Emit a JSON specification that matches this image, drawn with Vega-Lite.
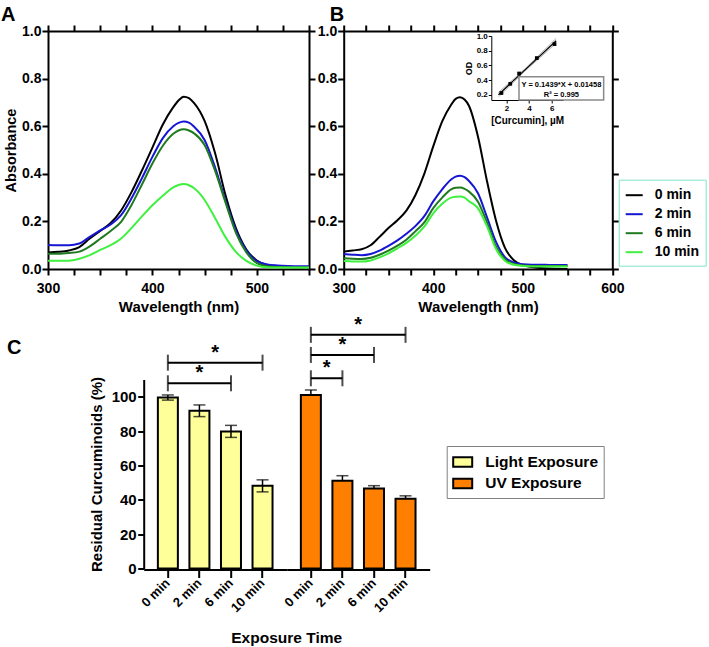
{
  "$schema": "https://vega.github.io/schema/vega-lite/v6.json",
  "padding": {"left": 1, "top": 5, "right": 0, "bottom": 0},
  "config": {
    "font": "Liberation Sans",
    "view": {"stroke": null},
    "legend": {"labelFont": "Liberation Sans", "labelFontWeight": "bold", "labelColor": "black"},
    "title": {"font": "Liberation Sans", "fontSize": 20, "fontWeight": "bold", "anchor": "start", "frame": "bounds", "color": "black"}
  },
  "resolve": {"scale": {"fill": "independent", "stroke": "independent"}},
  "datasets": {
    "specA": [
      {"wl": 300, "0 min": 0.069, "2 min": 0.101, "6 min": 0.064, "10 min": 0.035},
      {"wl": 310, "0 min": 0.072, "2 min": 0.100, "6 min": 0.064, "10 min": 0.035},
      {"wl": 320, "0 min": 0.078, "2 min": 0.100, "6 min": 0.067, "10 min": 0.035},
      {"wl": 330, "0 min": 0.092, "2 min": 0.107, "6 min": 0.073, "10 min": 0.043},
      {"wl": 340, "0 min": 0.128, "2 min": 0.135, "6 min": 0.095, "10 min": 0.058},
      {"wl": 350, "0 min": 0.160, "2 min": 0.162, "6 min": 0.127, "10 min": 0.080},
      {"wl": 360, "0 min": 0.193, "2 min": 0.187, "6 min": 0.160, "10 min": 0.100},
      {"wl": 370, "0 min": 0.246, "2 min": 0.226, "6 min": 0.198, "10 min": 0.128},
      {"wl": 380, "0 min": 0.323, "2 min": 0.297, "6 min": 0.269, "10 min": 0.172},
      {"wl": 390, "0 min": 0.414, "2 min": 0.382, "6 min": 0.355, "10 min": 0.221},
      {"wl": 400, "0 min": 0.510, "2 min": 0.471, "6 min": 0.443, "10 min": 0.268},
      {"wl": 410, "0 min": 0.607, "2 min": 0.550, "6 min": 0.518, "10 min": 0.308},
      {"wl": 420, "0 min": 0.680, "2 min": 0.600, "6 min": 0.568, "10 min": 0.343},
      {"wl": 425, "0 min": 0.708, "2 min": 0.614, "6 min": 0.582, "10 min": 0.353},
      {"wl": 430, "0 min": 0.724, "2 min": 0.620, "6 min": 0.587, "10 min": 0.357},
      {"wl": 435, "0 min": 0.718, "2 min": 0.615, "6 min": 0.582, "10 min": 0.352},
      {"wl": 440, "0 min": 0.697, "2 min": 0.598, "6 min": 0.570, "10 min": 0.339},
      {"wl": 450, "0 min": 0.622, "2 min": 0.542, "6 min": 0.521, "10 min": 0.290},
      {"wl": 460, "0 min": 0.487, "2 min": 0.427, "6 min": 0.413, "10 min": 0.214},
      {"wl": 470, "0 min": 0.311, "2 min": 0.288, "6 min": 0.280, "10 min": 0.134},
      {"wl": 480, "0 min": 0.172, "2 min": 0.162, "6 min": 0.152, "10 min": 0.072},
      {"wl": 490, "0 min": 0.082, "2 min": 0.078, "6 min": 0.070, "10 min": 0.034},
      {"wl": 500, "0 min": 0.036, "2 min": 0.033, "6 min": 0.025, "10 min": 0.014},
      {"wl": 510, "0 min": 0.017, "2 min": 0.019, "6 min": 0.012, "10 min": 0.007},
      {"wl": 520, "0 min": 0.011, "2 min": 0.015, "6 min": 0.008, "10 min": 0.006},
      {"wl": 530, "0 min": 0.009, "2 min": 0.013, "6 min": 0.007, "10 min": 0.006},
      {"wl": 540, "0 min": 0.008, "2 min": 0.012, "6 min": 0.006, "10 min": 0.006},
      {"wl": 550, "0 min": 0.008, "2 min": 0.012, "6 min": 0.006, "10 min": 0.006}
    ],
    "specB": [
      {"wl": 300, "0 min": 0.073, "2 min": 0.063, "6 min": 0.045, "10 min": 0.034},
      {"wl": 310, "0 min": 0.078, "2 min": 0.060, "6 min": 0.043, "10 min": 0.032},
      {"wl": 320, "0 min": 0.083, "2 min": 0.058, "6 min": 0.042, "10 min": 0.031},
      {"wl": 330, "0 min": 0.100, "2 min": 0.063, "6 min": 0.047, "10 min": 0.036},
      {"wl": 340, "0 min": 0.135, "2 min": 0.077, "6 min": 0.060, "10 min": 0.049},
      {"wl": 350, "0 min": 0.172, "2 min": 0.097, "6 min": 0.077, "10 min": 0.066},
      {"wl": 360, "0 min": 0.205, "2 min": 0.120, "6 min": 0.098, "10 min": 0.087},
      {"wl": 370, "0 min": 0.245, "2 min": 0.148, "6 min": 0.123, "10 min": 0.110},
      {"wl": 380, "0 min": 0.310, "2 min": 0.180, "6 min": 0.158, "10 min": 0.140},
      {"wl": 390, "0 min": 0.400, "2 min": 0.222, "6 min": 0.196, "10 min": 0.178},
      {"wl": 400, "0 min": 0.515, "2 min": 0.284, "6 min": 0.256, "10 min": 0.234},
      {"wl": 410, "0 min": 0.620, "2 min": 0.335, "6 min": 0.300, "10 min": 0.274},
      {"wl": 420, "0 min": 0.690, "2 min": 0.376, "6 min": 0.335, "10 min": 0.300},
      {"wl": 425, "0 min": 0.715, "2 min": 0.388, "6 min": 0.341, "10 min": 0.304},
      {"wl": 430, "0 min": 0.722, "2 min": 0.392, "6 min": 0.342, "10 min": 0.305},
      {"wl": 435, "0 min": 0.712, "2 min": 0.386, "6 min": 0.337, "10 min": 0.300},
      {"wl": 440, "0 min": 0.685, "2 min": 0.370, "6 min": 0.325, "10 min": 0.285},
      {"wl": 450, "0 min": 0.556, "2 min": 0.318, "6 min": 0.283, "10 min": 0.255},
      {"wl": 460, "0 min": 0.370, "2 min": 0.218, "6 min": 0.196, "10 min": 0.180},
      {"wl": 470, "0 min": 0.205, "2 min": 0.115, "6 min": 0.095, "10 min": 0.085},
      {"wl": 480, "0 min": 0.090, "2 min": 0.050, "6 min": 0.042, "10 min": 0.035},
      {"wl": 490, "0 min": 0.037, "2 min": 0.027, "6 min": 0.021, "10 min": 0.018},
      {"wl": 500, "0 min": 0.017, "2 min": 0.020, "6 min": 0.015, "10 min": 0.013},
      {"wl": 510, "0 min": 0.008, "2 min": 0.018, "6 min": 0.013, "10 min": 0.011},
      {"wl": 520, "0 min": 0.004, "2 min": 0.018, "6 min": 0.013, "10 min": 0.011},
      {"wl": 530, "0 min": 0.002, "2 min": 0.017, "6 min": 0.013, "10 min": 0.011},
      {"wl": 540, "0 min": 0.001, "2 min": 0.017, "6 min": 0.013, "10 min": 0.011},
      {"wl": 550, "0 min": 0.000, "2 min": 0.017, "6 min": 0.013, "10 min": 0.011}
    ],
    "std": [
      {"conc": 1.5625, "od": 0.225},
      {"conc": 2.344, "od": 0.35},
      {"conc": 3.125, "od": 0.49},
      {"conc": 4.6875, "od": 0.70},
      {"conc": 6.25, "od": 0.89}
    ],
    "reg": [
      {"conc": 1.3, "od": 0.202},
      {"conc": 6.4, "od": 0.935}
    ],
    "ci": [
      {"conc": 1.3, "od": 0.232, "band": "upper"},
      {"conc": 3.6, "od": 0.548, "band": "upper"},
      {"conc": 6.4, "od": 0.968, "band": "upper"},
      {"conc": 1.3, "od": 0.172, "band": "lower"},
      {"conc": 3.6, "od": 0.518, "band": "lower"},
      {"conc": 6.4, "od": 0.903, "band": "lower"}
    ],
    "cdata": [
      {"kind": "bar", "group": "Light Exposure", "time": "0 min", "mean": 99.5, "sd": 1.5},
      {"kind": "bar", "group": "Light Exposure", "time": "2 min", "mean": 91.8, "sd": 3.4},
      {"kind": "bar", "group": "Light Exposure", "time": "6 min", "mean": 79.8, "sd": 3.5},
      {"kind": "bar", "group": "Light Exposure", "time": "10 min", "mean": 48.1, "sd": 3.5},
      {"kind": "bar", "group": "UV Exposure", "time": "0 min", "mean": 101.0, "sd": 2.9},
      {"kind": "bar", "group": "UV Exposure", "time": "2 min", "mean": 51.0, "sd": 3.0},
      {"kind": "bar", "group": "UV Exposure", "time": "6 min", "mean": 46.5, "sd": 1.7},
      {"kind": "bar", "group": "UV Exposure", "time": "10 min", "mean": 40.6, "sd": 1.7},
      {"kind": "bracket", "group": "Light Exposure", "from": "0 min", "to": "6 min", "level": 107.8, "star": "2 min", "starPos": "center"},
      {"kind": "bracket", "group": "Light Exposure", "from": "0 min", "to": "10 min", "level": 119.8, "star": "2 min", "starPos": "between"},
      {"kind": "bracket", "group": "UV Exposure", "from": "0 min", "to": "2 min", "level": 110.7, "star": "0 min", "starPos": "between"},
      {"kind": "bracket", "group": "UV Exposure", "from": "0 min", "to": "6 min", "level": 124.3, "star": "2 min", "starPos": "center"},
      {"kind": "bracket", "group": "UV Exposure", "from": "0 min", "to": "10 min", "level": 136.0, "star": "2 min", "starPos": "between"}
    ]
  },
  "spacing": 0.5,
  "vconcat": [
    {
      "spacing": 0.7,
      "resolve": {"scale": {"stroke": "independent"}},
      "hconcat": [
        {
          "title": {"text": "A", "offset": -1},
          "width": 261,
          "height": 238,
          "data": {"name": "specA"},
          "transform": [{"fold": ["0 min", "2 min", "6 min", "10 min"], "as": ["time", "abs"]}],
          "layer": [
            {
              "mark": {"type": "line", "strokeWidth": 2, "interpolate": "monotone"},
              "encoding": {
                "x": {"field": "wl", "type": "quantitative", "scale": {"domain": [300, 550], "nice": false, "zero": false},
                  "axis": {"orient": "bottom", "values": [300, 325, 350, 375, 400, 425, 450, 475, 500, 525, 550],
                    "labelExpr": "datum.value % 100 === 0 ? datum.label : ''", "labelPadding": 6, "title": "Wavelength (nm)", "titlePadding": 4,
                    "domainColor": "black", "domainWidth": 2, "tickColor": "black", "tickWidth": 2, "tickSize": 6, "grid": false, "labelFlush": false, "labelOverlap": false,
                    "labelFont": "Liberation Sans", "labelFontWeight": "bold", "labelFontSize": 14, "labelColor": "black",
                    "titleFont": "Liberation Sans", "titleFontWeight": "bold", "titleFontSize": 15, "titleColor": "black"}},
                "y": {"field": "abs", "type": "quantitative", "scale": {"domain": [0, 1], "nice": false},
                  "axis": {"orient": "left", "values": [0, 0.2, 0.4, 0.6, 0.8, 1.0], "format": ".1f", "labelPadding": 1,
                    "title": "Absorbance", "minExtent": 47, "titleX": -32.5, "titleBaseline": "alphabetic",
                    "domainColor": "black", "domainWidth": 2, "tickColor": "black", "tickWidth": 2, "tickSize": 6, "grid": false, "labelFlush": false, "labelOverlap": false,
                    "labelFont": "Liberation Sans", "labelFontWeight": "bold", "labelFontSize": 14, "labelColor": "black",
                    "titleFont": "Liberation Sans", "titleFontWeight": "bold", "titleFontSize": 14.5, "titleColor": "black"}},
                "stroke": {"field": "time", "type": "nominal",
                  "scale": {"domain": ["0 min", "2 min", "6 min", "10 min"], "range": ["#000000", "#1616d2", "#1f7a1f", "#3ff03f"]},
                  "legend": null}
              }
            },
            {
              "mark": {"type": "line", "opacity": 0},
              "encoding": {
                "x": {"field": "wl", "type": "quantitative", "scale": {"domain": [300, 550], "nice": false, "zero": false},
                  "axis": {"orient": "top", "values": [300, 325, 350, 375, 400, 425, 450, 475, 500, 525, 550], "labels": false, "title": null,
                    "domainColor": "black", "domainWidth": 2, "tickColor": "black", "tickWidth": 2, "tickSize": 6, "grid": false}},
                "y": {"field": "abs", "type": "quantitative", "scale": {"domain": [0, 1], "nice": false},
                  "axis": {"orient": "right", "values": [0, 0.2, 0.4, 0.6, 0.8, 1.0], "labels": false, "title": null,
                    "domainColor": "black", "domainWidth": 2, "tickColor": "black", "tickWidth": 2, "tickSize": 6, "grid": false}}
              }
            }
          ],
          "resolve": {"axis": {"x": "independent", "y": "independent"}}
        },
        {
          "title": {"text": "B", "offset": -1, "dx": 13},
          "width": 268.6,
          "height": 238,
          "layer": [
            {
              "data": {"name": "specB"},
              "transform": [{"fold": ["0 min", "2 min", "6 min", "10 min"], "as": ["time", "abs"]}],
              "mark": {"type": "line", "strokeWidth": 2, "interpolate": "monotone"},
              "encoding": {
                "x": {"field": "wl", "type": "quantitative", "scale": {"domain": [300, 600], "nice": false, "zero": false},
                  "axis": {"orient": "bottom", "values": [300, 325, 350, 375, 400, 425, 450, 475, 500, 525, 550, 575, 600],
                    "labelExpr": "datum.value % 100 === 0 ? datum.label : ''", "labelPadding": 6, "title": "Wavelength (nm)", "titlePadding": 4,
                    "domainColor": "black", "domainWidth": 2, "tickColor": "black", "tickWidth": 2, "tickSize": 6, "grid": false, "labelFlush": false, "labelOverlap": false,
                    "labelFont": "Liberation Sans", "labelFontWeight": "bold", "labelFontSize": 14, "labelColor": "black",
                    "titleFont": "Liberation Sans", "titleFontWeight": "bold", "titleFontSize": 15, "titleColor": "black"}},
                "y": {"field": "abs", "type": "quantitative", "scale": {"domain": [0, 1], "nice": false},
                  "axis": {"orient": "left", "values": [0, 0.2, 0.4, 0.6, 0.8, 1.0], "format": ".1f", "labelPadding": 1, "title": null, "minExtent": 27,
                    "domainColor": "black", "domainWidth": 2, "tickColor": "black", "tickWidth": 2, "tickSize": 6, "grid": false, "labelFlush": false, "labelOverlap": false,
                    "labelFont": "Liberation Sans", "labelFontWeight": "bold", "labelFontSize": 14, "labelColor": "black"}},
                "stroke": {"field": "time", "type": "nominal",
                  "scale": {"domain": ["0 min", "2 min", "6 min", "10 min"], "range": ["#000000", "#1616d2", "#1f7a1f", "#3ff03f"]},
                  "legend": {"orient": "none", "legendX": 275, "legendY": 148.7, "title": null, "symbolType": "stroke",
                    "symbolStrokeWidth": 2, "symbolSize": 289, "labelFontSize": 14, "rowPadding": 2, "padding": 6,
                    "labelOffset": 11, "strokeColor": "#7fe5c8", "fillColor": "white"}}
              }
            },
            {
              "data": {"name": "specB"},
              "transform": [{"fold": ["0 min", "2 min", "6 min", "10 min"], "as": ["time", "abs"]}],
              "mark": {"type": "line", "opacity": 0},
              "encoding": {
                "x": {"field": "wl", "type": "quantitative", "scale": {"domain": [300, 600], "nice": false, "zero": false},
                  "axis": {"orient": "top", "values": [300, 325, 350, 375, 400, 425, 450, 475, 500, 525, 550, 575, 600], "labels": false, "title": null,
                    "domainColor": "black", "domainWidth": 2, "tickColor": "black", "tickWidth": 2, "tickSize": 6, "grid": false}},
                "y": {"field": "abs", "type": "quantitative", "scale": {"domain": [0, 1], "nice": false},
                  "axis": {"orient": "right", "values": [0, 0.2, 0.4, 0.6, 0.8, 1.0], "labels": false, "title": null,
                    "domainColor": "black", "domainWidth": 2, "tickColor": "black", "tickWidth": 2, "tickSize": 6, "grid": false}}
              }
            },
            {
              "layer": [
                {
                  "data": {"name": "ci"},
                  "mark": {"type": "line", "color": "#b0b0b0", "strokeWidth": 1},
                  "encoding": {
                    "x": {"field": "conc", "type": "quantitative", "scale": {"domain": [0.67, 7], "range": [147.6, 219.3], "nice": false, "zero": false},
                      "axis": {"orient": "bottom", "offset": -169, "values": [2, 4, 6], "format": "d", "domainColor": "black", "domainWidth": 1, "tickColor": "black", "tickWidth": 1, "tickSize": 3, "grid": false, "labelFlush": false, "labelOverlap": false,
                        "labelFont": "Liberation Sans", "labelFontWeight": "bold", "labelFontSize": 8, "labelColor": "black", "labelPadding": 1,
                        "title": "[Curcumin], µM", "titleFont": "Liberation Sans", "titleFontWeight": "bold", "titleFontSize": 10, "titleColor": "black", "titlePadding": 3}},
                    "y": {"field": "od", "type": "quantitative", "scale": {"domain": [0.13, 1.0], "range": [69, 5], "nice": false, "zero": false},
                      "axis": {"orient": "left", "offset": -147.6, "values": [0.2, 0.4, 0.6, 0.8, 1.0], "format": ".1f", "domainColor": "black", "domainWidth": 1, "tickColor": "black", "tickWidth": 1, "tickSize": 3, "grid": false, "labelFlush": false, "labelOverlap": false,
                        "labelFont": "Liberation Sans", "labelFontWeight": "bold", "labelFontSize": 8, "labelColor": "black", "labelPadding": 1,
                        "title": "OD", "titleFont": "Liberation Sans", "titleFontWeight": "bold", "titleFontSize": 9, "titleColor": "black", "titlePadding": 3}},
                    "detail": {"field": "band"}
                  }
                },
                {
                  "data": {"name": "reg"},
                  "mark": {"type": "line", "color": "black", "strokeWidth": 1.2},
                  "encoding": {
                    "x": {"field": "conc", "type": "quantitative", "scale": {"domain": [0.67, 7], "range": [147.6, 219.3], "nice": false, "zero": false},
                      "axis": {"orient": "bottom", "offset": -169, "values": [2, 4, 6], "format": "d", "domainColor": "black", "domainWidth": 1, "tickColor": "black", "tickWidth": 1, "tickSize": 3, "grid": false, "labelFlush": false, "labelOverlap": false,
                        "labelFont": "Liberation Sans", "labelFontWeight": "bold", "labelFontSize": 8, "labelColor": "black", "labelPadding": 1,
                        "title": "[Curcumin], µM", "titleFont": "Liberation Sans", "titleFontWeight": "bold", "titleFontSize": 10, "titleColor": "black", "titlePadding": 3}},
                    "y": {"field": "od", "type": "quantitative", "scale": {"domain": [0.13, 1.0], "range": [69, 5], "nice": false, "zero": false},
                      "axis": {"orient": "left", "offset": -147.6, "values": [0.2, 0.4, 0.6, 0.8, 1.0], "format": ".1f", "domainColor": "black", "domainWidth": 1, "tickColor": "black", "tickWidth": 1, "tickSize": 3, "grid": false, "labelFlush": false, "labelOverlap": false,
                        "labelFont": "Liberation Sans", "labelFontWeight": "bold", "labelFontSize": 8, "labelColor": "black", "labelPadding": 1,
                        "title": "OD", "titleFont": "Liberation Sans", "titleFontWeight": "bold", "titleFontSize": 9, "titleColor": "black", "titlePadding": 3}}
                  }
                },
                {
                  "data": {"name": "std"},
                  "mark": {"type": "square", "color": "black", "size": 14, "opacity": 1},
                  "encoding": {
                    "x": {"field": "conc", "type": "quantitative", "scale": {"domain": [0.67, 7], "range": [147.6, 219.3], "nice": false, "zero": false},
                      "axis": {"orient": "bottom", "offset": -169, "values": [2, 4, 6], "format": "d", "domainColor": "black", "domainWidth": 1, "tickColor": "black", "tickWidth": 1, "tickSize": 3, "grid": false, "labelFlush": false, "labelOverlap": false,
                        "labelFont": "Liberation Sans", "labelFontWeight": "bold", "labelFontSize": 8, "labelColor": "black", "labelPadding": 1,
                        "title": "[Curcumin], µM", "titleFont": "Liberation Sans", "titleFontWeight": "bold", "titleFontSize": 10, "titleColor": "black", "titlePadding": 3}},
                    "y": {"field": "od", "type": "quantitative", "scale": {"domain": [0.13, 1.0], "range": [69, 5], "nice": false, "zero": false},
                      "axis": {"orient": "left", "offset": -147.6, "values": [0.2, 0.4, 0.6, 0.8, 1.0], "format": ".1f", "domainColor": "black", "domainWidth": 1, "tickColor": "black", "tickWidth": 1, "tickSize": 3, "grid": false, "labelFlush": false, "labelOverlap": false,
                        "labelFont": "Liberation Sans", "labelFontWeight": "bold", "labelFontSize": 8, "labelColor": "black", "labelPadding": 1,
                        "title": "OD", "titleFont": "Liberation Sans", "titleFontWeight": "bold", "titleFontSize": 9, "titleColor": "black", "titlePadding": 3}}
                  }
                },
                {
                  "data": {"values": [{}]},
                  "mark": {"type": "rect", "fill": "white", "stroke": "#8a8a8a", "strokeWidth": 1.5},
                  "encoding": {
                    "x": {"datum": 3.115, "type": "quantitative", "scale": {"domain": [0.67, 7], "range": [147.6, 219.3], "nice": false, "zero": false},
                      "axis": {"orient": "bottom", "offset": -169, "values": [2, 4, 6], "format": "d", "domainColor": "black", "domainWidth": 1, "tickColor": "black", "tickWidth": 1, "tickSize": 3, "grid": false, "labelFlush": false, "labelOverlap": false,
                        "labelFont": "Liberation Sans", "labelFontWeight": "bold", "labelFontSize": 8, "labelColor": "black", "labelPadding": 1,
                        "title": "[Curcumin], µM", "titleFont": "Liberation Sans", "titleFontWeight": "bold", "titleFontSize": 10, "titleColor": "black", "titlePadding": 3}},
                    "x2": {"datum": 10.59},
                    "y": {"datum": 0.447, "type": "quantitative", "scale": {"domain": [0.13, 1.0], "range": [69, 5], "nice": false, "zero": false},
                      "axis": {"orient": "left", "offset": -147.6, "values": [0.2, 0.4, 0.6, 0.8, 1.0], "format": ".1f", "domainColor": "black", "domainWidth": 1, "tickColor": "black", "tickWidth": 1, "tickSize": 3, "grid": false, "labelFlush": false, "labelOverlap": false,
                        "labelFont": "Liberation Sans", "labelFontWeight": "bold", "labelFontSize": 8, "labelColor": "black", "labelPadding": 1,
                        "title": "OD", "titleFont": "Liberation Sans", "titleFontWeight": "bold", "titleFontSize": 9, "titleColor": "black", "titlePadding": 3}},
                    "y2": {"datum": 0.13}
                  }
                },
                {
                  "data": {"values": [{"line": "Y = 0.1439*X + 0.01458", "ty": 0.334}, {"line": "R² = 0.995", "ty": 0.198}]},
                  "mark": {"type": "text", "fontSize": 7.5, "fontWeight": "bold", "align": "center", "baseline": "middle", "color": "black"},
                  "encoding": {
                    "x": {"datum": 6.86, "type": "quantitative", "scale": {"domain": [0.67, 7], "range": [147.6, 219.3], "nice": false, "zero": false},
                      "axis": {"orient": "bottom", "offset": -169, "values": [2, 4, 6], "format": "d", "domainColor": "black", "domainWidth": 1, "tickColor": "black", "tickWidth": 1, "tickSize": 3, "grid": false, "labelFlush": false, "labelOverlap": false,
                        "labelFont": "Liberation Sans", "labelFontWeight": "bold", "labelFontSize": 8, "labelColor": "black", "labelPadding": 1,
                        "title": "[Curcumin], µM", "titleFont": "Liberation Sans", "titleFontWeight": "bold", "titleFontSize": 10, "titleColor": "black", "titlePadding": 3}},
                    "y": {"field": "ty", "type": "quantitative", "scale": {"domain": [0.13, 1.0], "range": [69, 5], "nice": false, "zero": false},
                      "axis": {"orient": "left", "offset": -147.6, "values": [0.2, 0.4, 0.6, 0.8, 1.0], "format": ".1f", "domainColor": "black", "domainWidth": 1, "tickColor": "black", "tickWidth": 1, "tickSize": 3, "grid": false, "labelFlush": false, "labelOverlap": false,
                        "labelFont": "Liberation Sans", "labelFontWeight": "bold", "labelFontSize": 8, "labelColor": "black", "labelPadding": 1,
                        "title": "OD", "titleFont": "Liberation Sans", "titleFontWeight": "bold", "titleFontSize": 9, "titleColor": "black", "titlePadding": 3}},
                    "text": {"field": "line"}
                  }
                }
              ]
            }
          ],
          "resolve": {"scale": {"x": "independent", "y": "independent"}}
        }
      ]
    },
    {
      "spacing": 35.7,
      "hconcat": [
        {
          "title": {"text": "C", "dx": -41, "offset": 21.5},
          "width": 1,
          "height": 1,
          "data": {"values": []},
          "mark": "point"
        },
        {
          "data": {"name": "cdata"},
          "facet": {
            "column": {"field": "group", "type": "nominal", "sort": ["Light Exposure", "UV Exposure"],
              "header": {"labels": false, "title": "Exposure Time", "titleOrient": "bottom", "titleFont": "Liberation Sans", "titleFontSize": 15.5, "titleFontWeight": "bold", "titleColor": "black", "titlePadding": 5}}
          },
          "spacing": {"column": 0},
          "spec": {
            "width": 143,
            "height": 189,
            "layer": [
              {
                "transform": [{"filter": "datum.kind === 'bar' && datum.group === 'UV Exposure'"}],
                "mark": {"type": "errorbar", "color": "black", "thickness": 1.5, "ticks": {"size": 12, "thickness": 1.5}},
                "encoding": {
                  "x": {"field": "time", "type": "nominal", "scale": {"domain": ["0 min", "2 min", "6 min", "10 min"], "paddingInner": 0.366, "paddingOuter": 0.449},
                    "axis": {"orient": "bottom", "title": null, "tickSize": 8, "labelAngle": -45, "labelAlign": "right", "labelBaseline": "middle", "labelPadding": 3,
                      "domainColor": "black", "domainWidth": 2, "tickColor": "black", "tickWidth": 2, "grid": false,
                      "labelFont": "Liberation Sans", "labelFontWeight": "bold", "labelFontSize": 13, "labelColor": "black"}},
                  "y": {"field": "mean", "type": "quantitative", "scale": {"domain": [0, 110], "nice": false},
                    "axis": {"orient": "left", "values": [0, 20, 40, 60, 80, 100], "labelPadding": 1.5, "tickSize": 6,
                      "title": "Residual Curcuminoids (%)", "minExtent": 59, "titleX": -42.7, "titleBaseline": "alphabetic",
                      "domainColor": "black", "domainWidth": 2, "tickColor": "black", "tickWidth": 2, "grid": false, "labelFlush": false, "labelOverlap": false,
                      "labelFont": "Liberation Sans", "labelFontWeight": "bold", "labelFontSize": 15, "labelColor": "black",
                      "titleFont": "Liberation Sans", "titleFontWeight": "bold", "titleFontSize": 15, "titleColor": "black"}},
                  "yError": {"field": "sd"}
                }
              },
              {
                "transform": [{"filter": "datum.kind === 'bar'"}],
                "mark": {"type": "bar", "stroke": "black", "strokeWidth": 2},
                "encoding": {
                  "x": {"field": "time", "type": "nominal", "scale": {"domain": ["0 min", "2 min", "6 min", "10 min"], "paddingInner": 0.366, "paddingOuter": 0.449},
                    "axis": {"orient": "bottom", "title": null, "tickSize": 8, "labelAngle": -45, "labelAlign": "right", "labelBaseline": "middle", "labelPadding": 3,
                      "domainColor": "black", "domainWidth": 2, "tickColor": "black", "tickWidth": 2, "grid": false,
                      "labelFont": "Liberation Sans", "labelFontWeight": "bold", "labelFontSize": 13, "labelColor": "black"}},
                  "y": {"field": "mean", "type": "quantitative", "scale": {"domain": [0, 110], "nice": false},
                    "axis": {"orient": "left", "values": [0, 20, 40, 60, 80, 100], "labelPadding": 1.5, "tickSize": 6,
                      "title": "Residual Curcuminoids (%)", "minExtent": 59, "titleX": -42.7, "titleBaseline": "alphabetic",
                      "domainColor": "black", "domainWidth": 2, "tickColor": "black", "tickWidth": 2, "grid": false, "labelFlush": false, "labelOverlap": false,
                      "labelFont": "Liberation Sans", "labelFontWeight": "bold", "labelFontSize": 15, "labelColor": "black",
                      "titleFont": "Liberation Sans", "titleFontWeight": "bold", "titleFontSize": 15, "titleColor": "black"}},
                  "fill": {"field": "group", "type": "nominal", "scale": {"domain": ["Light Exposure", "UV Exposure"], "range": ["#ffff99", "#ff8000"]},
                    "legend": {"orient": "none", "legendX": 398.7, "legendY": 66.5, "title": null, "symbolType": "M-1,-0.5H1V0.5H-1Z", "symbolSize": 361,
                      "symbolStrokeColor": "black", "symbolStrokeWidth": 2, "labelFontSize": 15.5, "rowPadding": 1.4, "padding": 5.5, "labelOffset": 12,
                      "strokeColor": "#808080", "fillColor": "white"}}
                }
              },
              {
                "transform": [{"filter": "datum.kind === 'bar' && datum.group === 'Light Exposure'"}],
                "mark": {"type": "errorbar", "color": "black", "thickness": 1.5, "ticks": {"size": 12, "thickness": 1.5}},
                "encoding": {
                  "x": {"field": "time", "type": "nominal", "scale": {"domain": ["0 min", "2 min", "6 min", "10 min"], "paddingInner": 0.366, "paddingOuter": 0.449},
                    "axis": {"orient": "bottom", "title": null, "tickSize": 8, "labelAngle": -45, "labelAlign": "right", "labelBaseline": "middle", "labelPadding": 3,
                      "domainColor": "black", "domainWidth": 2, "tickColor": "black", "tickWidth": 2, "grid": false,
                      "labelFont": "Liberation Sans", "labelFontWeight": "bold", "labelFontSize": 13, "labelColor": "black"}},
                  "y": {"field": "mean", "type": "quantitative", "scale": {"domain": [0, 110], "nice": false},
                    "axis": {"orient": "left", "values": [0, 20, 40, 60, 80, 100], "labelPadding": 1.5, "tickSize": 6,
                      "title": "Residual Curcuminoids (%)", "minExtent": 59, "titleX": -42.7, "titleBaseline": "alphabetic",
                      "domainColor": "black", "domainWidth": 2, "tickColor": "black", "tickWidth": 2, "grid": false, "labelFlush": false, "labelOverlap": false,
                      "labelFont": "Liberation Sans", "labelFontWeight": "bold", "labelFontSize": 15, "labelColor": "black",
                      "titleFont": "Liberation Sans", "titleFontWeight": "bold", "titleFontSize": 15, "titleColor": "black"}},
                  "yError": {"field": "sd"}
                }
              },
              {
                "transform": [{"filter": "datum.kind === 'bracket'"}],
                "mark": {"type": "rule", "color": "black", "strokeWidth": 2},
                "encoding": {
                  "x": {"field": "from", "type": "nominal", "scale": {"domain": ["0 min", "2 min", "6 min", "10 min"], "paddingInner": 0.366, "paddingOuter": 0.449},
                    "axis": {"orient": "bottom", "title": null, "tickSize": 8, "labelAngle": -45, "labelAlign": "right", "labelBaseline": "middle", "labelPadding": 3,
                      "domainColor": "black", "domainWidth": 2, "tickColor": "black", "tickWidth": 2, "grid": false,
                      "labelFont": "Liberation Sans", "labelFontWeight": "bold", "labelFontSize": 13, "labelColor": "black"}},
                  "x2": {"field": "to"},
                  "y": {"field": "level", "type": "quantitative", "scale": {"domain": [0, 110], "nice": false},
                    "axis": {"orient": "left", "values": [0, 20, 40, 60, 80, 100], "labelPadding": 1.5, "tickSize": 6,
                      "title": "Residual Curcuminoids (%)", "minExtent": 59, "titleX": -42.7, "titleBaseline": "alphabetic",
                      "domainColor": "black", "domainWidth": 2, "tickColor": "black", "tickWidth": 2, "grid": false, "labelFlush": false, "labelOverlap": false,
                      "labelFont": "Liberation Sans", "labelFontWeight": "bold", "labelFontSize": 15, "labelColor": "black",
                      "titleFont": "Liberation Sans", "titleFontWeight": "bold", "titleFontSize": 15, "titleColor": "black"}}
                }
              },
              {
                "transform": [{"filter": "datum.kind === 'bracket'"}],
                "mark": {"type": "tick", "orient": "vertical", "color": "black", "size": 16, "thickness": 2},
                "encoding": {
                  "x": {"field": "from", "type": "nominal", "scale": {"domain": ["0 min", "2 min", "6 min", "10 min"], "paddingInner": 0.366, "paddingOuter": 0.449},
                    "axis": {"orient": "bottom", "title": null, "tickSize": 8, "labelAngle": -45, "labelAlign": "right", "labelBaseline": "middle", "labelPadding": 3,
                      "domainColor": "black", "domainWidth": 2, "tickColor": "black", "tickWidth": 2, "grid": false,
                      "labelFont": "Liberation Sans", "labelFontWeight": "bold", "labelFontSize": 13, "labelColor": "black"}},
                  "y": {"field": "level", "type": "quantitative", "scale": {"domain": [0, 110], "nice": false},
                    "axis": {"orient": "left", "values": [0, 20, 40, 60, 80, 100], "labelPadding": 1.5, "tickSize": 6,
                      "title": "Residual Curcuminoids (%)", "minExtent": 59, "titleX": -42.7, "titleBaseline": "alphabetic",
                      "domainColor": "black", "domainWidth": 2, "tickColor": "black", "tickWidth": 2, "grid": false, "labelFlush": false, "labelOverlap": false,
                      "labelFont": "Liberation Sans", "labelFontWeight": "bold", "labelFontSize": 15, "labelColor": "black",
                      "titleFont": "Liberation Sans", "titleFontWeight": "bold", "titleFontSize": 15, "titleColor": "black"}}
                }
              },
              {
                "transform": [{"filter": "datum.kind === 'bracket'"}],
                "mark": {"type": "tick", "orient": "vertical", "color": "black", "size": 16, "thickness": 2},
                "encoding": {
                  "x": {"field": "to", "type": "nominal", "scale": {"domain": ["0 min", "2 min", "6 min", "10 min"], "paddingInner": 0.366, "paddingOuter": 0.449},
                    "axis": {"orient": "bottom", "title": null, "tickSize": 8, "labelAngle": -45, "labelAlign": "right", "labelBaseline": "middle", "labelPadding": 3,
                      "domainColor": "black", "domainWidth": 2, "tickColor": "black", "tickWidth": 2, "grid": false,
                      "labelFont": "Liberation Sans", "labelFontWeight": "bold", "labelFontSize": 13, "labelColor": "black"}},
                  "y": {"field": "level", "type": "quantitative", "scale": {"domain": [0, 110], "nice": false},
                    "axis": {"orient": "left", "values": [0, 20, 40, 60, 80, 100], "labelPadding": 1.5, "tickSize": 6,
                      "title": "Residual Curcuminoids (%)", "minExtent": 59, "titleX": -42.7, "titleBaseline": "alphabetic",
                      "domainColor": "black", "domainWidth": 2, "tickColor": "black", "tickWidth": 2, "grid": false, "labelFlush": false, "labelOverlap": false,
                      "labelFont": "Liberation Sans", "labelFontWeight": "bold", "labelFontSize": 15, "labelColor": "black",
                      "titleFont": "Liberation Sans", "titleFontWeight": "bold", "titleFontSize": 15, "titleColor": "black"}}
                }
              },
              {
                "transform": [{"filter": "datum.kind === 'bracket' && datum.starPos === 'center'"}],
                "mark": {"type": "text", "text": "*", "fontSize": 20, "fontWeight": "bold", "baseline": "middle", "align": "center", "dy": -10, "color": "black"},
                "encoding": {
                  "x": {"field": "star", "type": "nominal", "scale": {"domain": ["0 min", "2 min", "6 min", "10 min"], "paddingInner": 0.366, "paddingOuter": 0.449},
                    "axis": {"orient": "bottom", "title": null, "tickSize": 8, "labelAngle": -45, "labelAlign": "right", "labelBaseline": "middle", "labelPadding": 3,
                      "domainColor": "black", "domainWidth": 2, "tickColor": "black", "tickWidth": 2, "grid": false,
                      "labelFont": "Liberation Sans", "labelFontWeight": "bold", "labelFontSize": 13, "labelColor": "black"}},
                  "y": {"field": "level", "type": "quantitative", "scale": {"domain": [0, 110], "nice": false},
                    "axis": {"orient": "left", "values": [0, 20, 40, 60, 80, 100], "labelPadding": 1.5, "tickSize": 6,
                      "title": "Residual Curcuminoids (%)", "minExtent": 59, "titleX": -42.7, "titleBaseline": "alphabetic",
                      "domainColor": "black", "domainWidth": 2, "tickColor": "black", "tickWidth": 2, "grid": false, "labelFlush": false, "labelOverlap": false,
                      "labelFont": "Liberation Sans", "labelFontWeight": "bold", "labelFontSize": 15, "labelColor": "black",
                      "titleFont": "Liberation Sans", "titleFontWeight": "bold", "titleFontSize": 15, "titleColor": "black"}}
                }
              },
              {
                "transform": [{"filter": "datum.kind === 'bracket' && datum.starPos === 'between'"}],
                "mark": {"type": "text", "text": "*", "fontSize": 20, "fontWeight": "bold", "baseline": "middle", "align": "center", "dy": -10, "color": "black"},
                "encoding": {
                  "x": {"field": "star", "type": "nominal", "bandPosition": 1.29, "scale": {"domain": ["0 min", "2 min", "6 min", "10 min"], "paddingInner": 0.366, "paddingOuter": 0.449},
                    "axis": {"orient": "bottom", "title": null, "tickSize": 8, "labelAngle": -45, "labelAlign": "right", "labelBaseline": "middle", "labelPadding": 3,
                      "domainColor": "black", "domainWidth": 2, "tickColor": "black", "tickWidth": 2, "grid": false,
                      "labelFont": "Liberation Sans", "labelFontWeight": "bold", "labelFontSize": 13, "labelColor": "black"}},
                  "y": {"field": "level", "type": "quantitative", "scale": {"domain": [0, 110], "nice": false},
                    "axis": {"orient": "left", "values": [0, 20, 40, 60, 80, 100], "labelPadding": 1.5, "tickSize": 6,
                      "title": "Residual Curcuminoids (%)", "minExtent": 59, "titleX": -42.7, "titleBaseline": "alphabetic",
                      "domainColor": "black", "domainWidth": 2, "tickColor": "black", "tickWidth": 2, "grid": false, "labelFlush": false, "labelOverlap": false,
                      "labelFont": "Liberation Sans", "labelFontWeight": "bold", "labelFontSize": 15, "labelColor": "black",
                      "titleFont": "Liberation Sans", "titleFontWeight": "bold", "titleFontSize": 15, "titleColor": "black"}}
                }
              }
            ]
          }
        }
      ]
    }
  ]
}
